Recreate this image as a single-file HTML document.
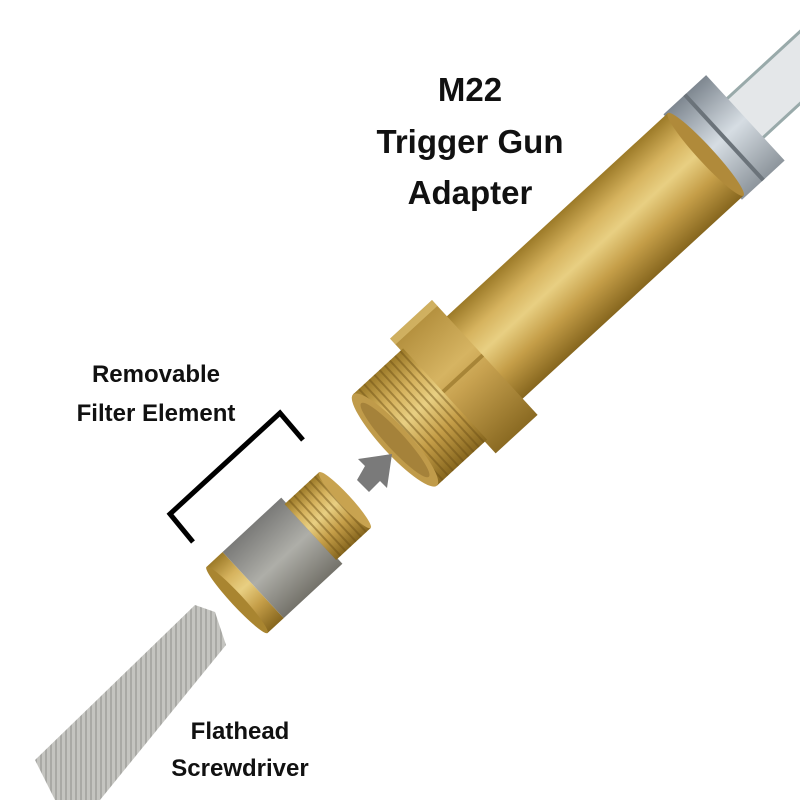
<!DOCTYPE html>
<html><head><style>
html,body{margin:0;padding:0;background:#fff;}
.t{font-family:"Liberation Sans",sans-serif;font-weight:bold;fill:#111;text-anchor:middle;}
</style></head><body>
<svg width="800" height="800" viewBox="0 0 800 800" xmlns="http://www.w3.org/2000/svg">
<defs>
<linearGradient id="brass" x1="0" y1="0" x2="0" y2="1">
<stop offset="0" stop-color="#9c7a28"/><stop offset="0.25" stop-color="#d6b35e"/><stop offset="0.45" stop-color="#e8cf82"/><stop offset="0.7" stop-color="#c59e48"/><stop offset="1" stop-color="#86661e"/></linearGradient>
<linearGradient id="brass2" x1="0" y1="0" x2="0" y2="1">
<stop offset="0" stop-color="#b08c3a"/><stop offset="0.4" stop-color="#d6b462"/><stop offset="0.55" stop-color="#c8a250"/><stop offset="1" stop-color="#8a6a22"/></linearGradient>
<linearGradient id="silver" x1="0" y1="0" x2="0" y2="1">
<stop offset="0" stop-color="#7e8790"/><stop offset="0.5" stop-color="#d6dde3"/><stop offset="1" stop-color="#8d959c"/></linearGradient>
<linearGradient id="mesh" x1="0" y1="0" x2="0" y2="1">
<stop offset="0" stop-color="#7a7a78"/><stop offset="0.5" stop-color="#aeaea8"/><stop offset="1" stop-color="#74726a"/></linearGradient>
<pattern id="thr" width="7" height="10" patternUnits="userSpaceOnUse"><rect width="2" height="10" fill="#6a4e14" opacity="0.45"/></pattern>
<pattern id="knurl" width="5" height="5" patternUnits="userSpaceOnUse"><rect width="5" height="5" fill="#c4c4c0"/><rect width="2" height="5" fill="#a9a9a5"/></pattern>
</defs>

<g transform="translate(395,440) rotate(-42.6)">
<rect x="470" y="-28" width="130" height="56" fill="#e4e7e9"/>
<rect x="470" y="-28" width="130" height="3" fill="#9aa"/>
<rect x="470" y="25" width="130" height="3" fill="#9aa"/>
<rect x="418" y="-58" width="58" height="116" fill="url(#silver)"/>
<rect x="445" y="-58" width="4" height="116" fill="#6b737a"/>
<rect x="110" y="-56" width="312" height="112" fill="url(#brass)"/>
<ellipse cx="422" cy="0" rx="8" ry="56" fill="#b08a3a"/>
<polygon points="65,-78 122,-78 122,78 65,78" fill="url(#brass2)"/>
<rect x="65" y="-78" width="57" height="8" fill="#e3c778" opacity="0.6"/>
<rect x="65" y="-5" width="57" height="4" fill="#8d6c22" opacity="0.6"/>
<rect x="0" y="-62" width="68" height="124" fill="url(#brass)"/>
<rect x="0" y="-62" width="68" height="124" fill="url(#thr)"/>
<ellipse cx="0" cy="0" rx="14" ry="62" fill="#c09b4a"/>
<ellipse cx="0" cy="0" rx="9" ry="50" fill="#a5823a"/>
</g>

<g transform="translate(237,600) rotate(-42.8)">
<rect x="0" y="-45" width="22" height="90" fill="url(#brass)"/>
<rect x="22" y="-45" width="80" height="90" fill="url(#mesh)"/>
<rect x="100" y="-38" width="47" height="76" fill="url(#brass)"/>
<rect x="100" y="-38" width="47" height="76" fill="url(#thr)"/>
<ellipse cx="147" cy="0" rx="6" ry="38" fill="#c8a350"/>
<ellipse cx="0" cy="0" rx="6" ry="45" fill="#a98530"/>
</g>

<polygon points="35,760 55,800 100,800 226,645 215,612 195,605" fill="url(#knurl)"/>

<polyline points="193,542 170,514 280,413 303,440" fill="none" stroke="#000" stroke-width="5"/>
<polygon points="357,480 369,492 380,481 387,488 392,454 358,459 365,466" fill="#7a7a7a"/>

<text class="t" x="470" y="101" font-size="33">M22</text>
<text class="t" x="470" y="153" font-size="33">Trigger Gun</text>
<text class="t" x="470" y="204" font-size="33">Adapter</text>
<text class="t" x="156" y="382" font-size="24">Removable</text>
<text class="t" x="156" y="421" font-size="24">Filter Element</text>
<text class="t" x="240" y="739" font-size="24">Flathead</text>
<text class="t" x="240" y="776" font-size="24">Screwdriver</text>
</svg>
</body></html>
